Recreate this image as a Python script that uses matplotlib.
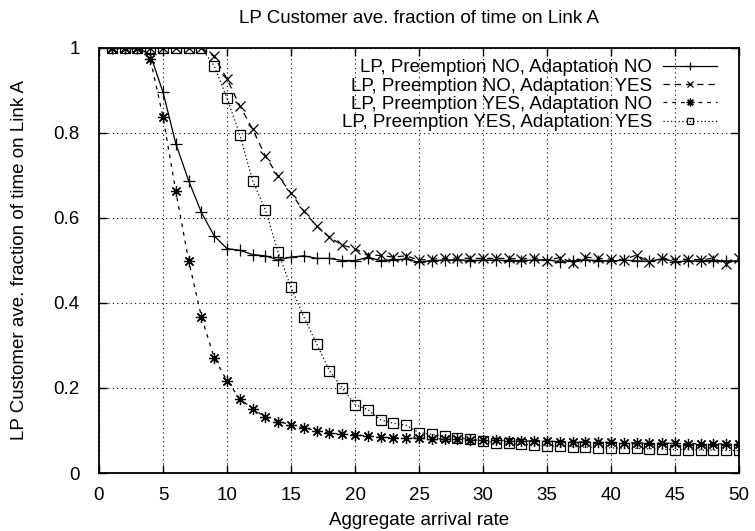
import numpy as np
import matplotlib.pyplot as plt

plt.rcParams['font.family'] = ['Liberation Sans', 'DejaVu Sans']

# arrival rates 1..50
rate = list(range(1, 51))

pre_no_ad_no = [1.0, 1.0, 1.0, 0.985, 0.896, 0.775, 0.688, 0.613, 0.558, 0.528,
                0.524, 0.514, 0.511, 0.501, 0.508, 0.511, 0.505, 0.505, 0.500, 0.500,
                0.507, 0.500, 0.502, 0.503, 0.496, 0.500, 0.501, 0.502, 0.500, 0.501,
                0.501, 0.500, 0.500, 0.501, 0.502, 0.497, 0.500, 0.501, 0.500, 0.499,
                0.501, 0.499, 0.498, 0.504, 0.497, 0.499, 0.499, 0.500, 0.499, 0.499]

pre_no_ad_yes = [1.0, 1.0, 1.0, 1.0, 1.0, 1.0, 1.0, 1.0, 0.980, 0.927,
                 0.864, 0.809, 0.746, 0.698, 0.659, 0.616, 0.581, 0.555, 0.536, 0.528,
                 0.512, 0.512, 0.508, 0.511, 0.501, 0.503, 0.505, 0.506, 0.505, 0.505,
                 0.505, 0.505, 0.503, 0.507, 0.500, 0.507, 0.495, 0.508, 0.505, 0.503,
                 0.502, 0.513, 0.496, 0.506, 0.502, 0.503, 0.502, 0.505, 0.492, 0.505]

pre_yes_ad_no = [1.0, 1.0, 1.0, 0.975, 0.838, 0.663, 0.500, 0.368, 0.271, 0.217,
                 0.175, 0.151, 0.132, 0.121, 0.114, 0.106, 0.100, 0.094, 0.091, 0.090,
                 0.087, 0.084, 0.083, 0.082, 0.082, 0.081, 0.080, 0.079, 0.078, 0.077,
                 0.077, 0.076, 0.075, 0.075, 0.075, 0.074, 0.073, 0.073, 0.072, 0.072,
                 0.071, 0.071, 0.070, 0.070, 0.070, 0.069, 0.069, 0.069, 0.068, 0.068]

pre_yes_ad_yes = [1.0, 1.0, 1.0, 1.0, 1.0, 1.0, 1.0, 1.0, 0.958, 0.882,
                  0.796, 0.688, 0.619, 0.519, 0.437, 0.368, 0.304, 0.241, 0.200, 0.161,
                  0.149, 0.125, 0.117, 0.112, 0.095, 0.091, 0.086, 0.083, 0.080, 0.076,
                  0.071, 0.070, 0.068, 0.066, 0.064, 0.063, 0.062, 0.061, 0.060, 0.059,
                  0.058, 0.058, 0.057, 0.056, 0.055, 0.055, 0.054, 0.054, 0.053, 0.053]

labels = ['LP, Preemption NO, Adaptation NO',
          'LP, Preemption NO, Adaptation YES',
          'LP, Preemption YES, Adaptation NO',
          'LP, Preemption YES, Adaptation YES']

fs = 13.5

fig = plt.figure(figsize=(7.55, 5.31), dpi=100)
ax = fig.add_axes([99/755, 1 - 473/531, 640/755, 425/531])

lw = 0.9
ax.plot(rate, pre_no_ad_no, color='k', lw=lw, ls='-', marker='+', ms=8, mew=0.9,
        label=labels[0])
ax.plot(rate, pre_no_ad_yes, color='k', lw=lw, ls=(0, (5, 4)), marker='x', ms=7, mew=0.9,
        label=labels[1])
ax.plot(rate, pre_yes_ad_no, color='k', lw=lw, ls=(0, (3, 4)), marker=(8, 2, 0), ms=8,
        mew=0.9, label=labels[2])
ax.plot(rate, pre_yes_ad_yes, color='k', lw=lw, ls=(0, (1, 2)), marker='s', ms=7,
        mfc='none', mew=0.9, label=labels[3])

ax.set_xlim(0, 50)
ax.set_ylim(0, 1)
ax.set_xticks(np.arange(0, 51, 5))
ax.set_yticks([0, 0.2, 0.4, 0.6, 0.8, 1])
ax.set_yticklabels(['0', '0.2', '0.4', '0.6', '0.8', '1'])
ax.grid(True, color='k', ls=(0, (1, 3)), lw=0.8)
ax.tick_params(direction='in', top=True, right=True, length=6, width=1,
               labelsize=fs)
ax.tick_params(axis='y', pad=14)
ax.tick_params(axis='x', pad=10)
for s in ax.spines.values():
    s.set_linewidth(1.3)

ax.set_title('LP Customer ave. fraction of time on Link A', fontsize=fs, pad=18)
ax.set_xlabel('Aggregate arrival rate', fontsize=fs, labelpad=6)
ax.set_ylabel('LP Customer ave. fraction of time on Link A', fontsize=fs, labelpad=18)

leg = ax.legend(loc='upper right', markerfirst=False, frameon=False, fontsize=fs,
                handlelength=2.9, labelspacing=0.07, borderpad=0, borderaxespad=0,
                handletextpad=0.55, markerscale=0.7,
                bbox_to_anchor=(1 - 22/640, 1 - 11/425))

fig.savefig('out.png', dpi=100)
